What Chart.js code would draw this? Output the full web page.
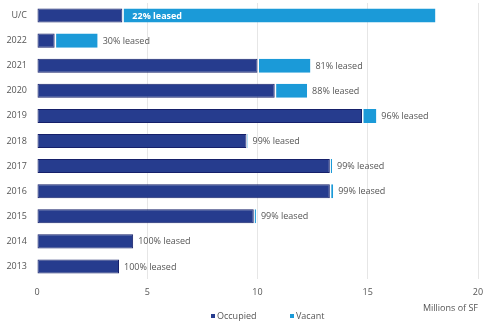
<!DOCTYPE html>
<html>
<head>
<meta charset="utf-8">
<script src="https://cdn.jsdelivr.net/npm/chart.js@4.4.1/dist/chart.umd.min.js"></script>
<style>
html,body{margin:0;padding:0;background:#fff;}
#wrap{width:500px;height:324px;}
</style>
</head>
<body>
<div id="wrap"><canvas id="c" width="500" height="324"></canvas></div>
<script>
const categories = ['U/C','2022','2021','2020','2019','2018','2017','2016','2015','2014','2013'];
const occupied = [3.87, 0.8, 10.0, 10.78, 14.74, 9.5, 13.28, 13.28, 9.83, 4.36, 3.72];
const vacant = [14.2, 1.95, 2.4, 1.47, 0.65, 0.05, 0.1, 0.15, 0.1, 0, 0];
const leasedLabels = ['22% leased','30% leased','81% leased','88% leased','96% leased','99% leased','99% leased','99% leased','99% leased','100% leased','100% leased'];
const xTicks = [0, 5, 10, 15, 20];
const seriesNames = ['Occupied', 'Vacant'];
const seriesColors = ['#263c8e', '#1b9ad8'];

const FONT = "'Open Sans', 'Noto Sans', sans-serif";
const FS = 9;
const GRAY = '#555555';

const labelPlugin = {
  id: 'leasedLabels',
  afterDatasetsDraw(chart) {
    const ctx = chart.ctx;
    const xs = chart.scales.x;
    const m0 = chart.getDatasetMeta(0);
    const m1 = chart.getDatasetMeta(1);
    ctx.save();
    ctx.textBaseline = 'middle';
    ctx.textAlign = 'left';
    for (let i = 0; i < categories.length; i++) {
      const y = m0.data[i].y;
      if (i === 0) {
        ctx.font = "bold " + FS + "px " + FONT;
        ctx.fillStyle = '#ffffff';
        ctx.fillText(leasedLabels[i], m1.data[i].base + 10, y + 0.5);
      } else {
        ctx.font = FS + "px " + FONT;
        ctx.fillStyle = GRAY;
        const x = xs.getPixelForValue(occupied[i] + vacant[i]);
        ctx.fillText(leasedLabels[i], x + 5, y + 0.5);
      }
    }
    ctx.restore();
  }
};

const legendPlugin = {
  id: 'customLegend',
  afterDraw(chart) {
    const ctx = chart.ctx;
    ctx.save();
    ctx.font = FS + "px " + FONT;
    ctx.textBaseline = 'middle';
    ctx.textAlign = 'left';
    const y = 316;
    const xs = [211, 290];
    chart.data.datasets.forEach((ds, i) => {
      ctx.fillStyle = seriesColors[i];
      ctx.fillRect(xs[i], y - 2, 4, 4);
      ctx.fillStyle = GRAY;
      ctx.fillText(seriesNames[i], xs[i] + 6, y);
    });
    ctx.restore();
  }
};

new Chart(document.getElementById('c'), {
  type: 'bar',
  data: {
    labels: categories,
    datasets: [
      {
        label: seriesNames[0],
        data: occupied,
        backgroundColor: seriesColors[0],
        borderColor: '#16206a',
        borderWidth: 1,
        borderSkipped: false,
        categoryPercentage: 0.8,
        barPercentage: 0.7
      },
      {
        label: seriesNames[1],
        data: vacant,
        backgroundColor: seriesColors[1],
        borderColor: '#ffffff',
        borderWidth: {left: 1.5, top: 0, right: 0, bottom: 0},
        borderSkipped: false,
        categoryPercentage: 0.8,
        barPercentage: 0.7
      }
    ]
  },
  options: {
    indexAxis: 'y',
    responsive: false,
    animation: false,
    layout: {padding: {left: 0, right: 22, top: 3, bottom: 10}},
    scales: {
      x: {
        stacked: true,
        min: 0, max: 20,
        afterBuildTicks(axis) { axis.ticks = xTicks.map(v => ({value: v})); },
        ticks: {color: GRAY, font: {family: FONT, size: FS}, padding: 8, maxRotation: 0},
        grid: {
          color: (c) => c.tick && c.tick.value === 0 ? 'rgba(0,0,0,0)' : '#e6e6e6',
          drawTicks: false
        },
        border: {display: false},
        title: {display: true, text: 'Millions of SF', align: 'end', color: GRAY, font: {family: FONT, size: FS}, padding: {top: 2, bottom: 0}},
        afterFit(axis) { axis.height = 35; }
      },
      y: {
        stacked: true,
        ticks: {color: GRAY, font: {family: FONT, size: FS}, padding: 10},
        grid: {display: false, drawTicks: false},
        border: {display: false},
        afterFit(axis) { axis.width = 37; axis.paddingTop = 0; axis.paddingBottom = 0; }
      }
    },
    plugins: {
      legend: {display: false},
      tooltip: {enabled: false}
    }
  },
  plugins: [labelPlugin, legendPlugin]
});
</script>
</body>
</html>
